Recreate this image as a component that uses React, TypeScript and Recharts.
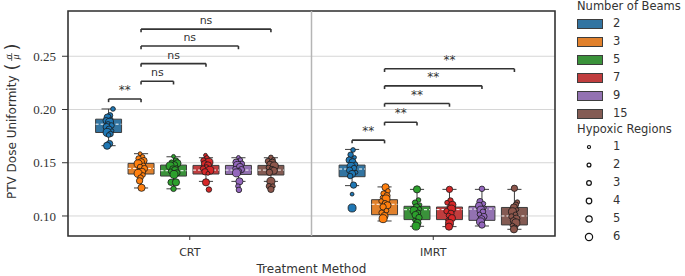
import React from 'react';
import { ComposedChart, Scatter, XAxis, YAxis, CartesianGrid, ReferenceArea, ReferenceLine } from 'recharts';

const methods = ['CRT', 'IMRT'];
const beams = ['2', '3', '5', '7', '9', '15'];
const hypoxicLevels = [1, 2, 3, 4, 5, 6];

// seaborn muted box fills and tab10 point colours
const boxColors = ['#3274a1', '#e1812c', '#3a923a', '#c03d3e', '#9372b2', '#845b53'];
const pointColors = ['#1f77b4', '#ff7f0e', '#2ca02c', '#d62728', '#9467bd', '#8c564b'];

// [whisker low, q1, median, q3, whisker high] per beam count
const crtStats = [
  [0.166, 0.1784, 0.1862, 0.1909, 0.2005],
  [0.1263, 0.1394, 0.1447, 0.1494, 0.1585],
  [0.1255, 0.1375, 0.1425, 0.1478, 0.1556],
  [0.1325, 0.1394, 0.1431, 0.1475, 0.1547],
  [0.1325, 0.139, 0.1431, 0.1475, 0.1547],
  [0.1325, 0.1385, 0.1431, 0.1475, 0.1547],
];
const imrtStats = [
  [0.1285, 0.1369, 0.1441, 0.1478, 0.1625],
  [0.0953, 0.1012, 0.111, 0.1153, 0.1273],
  [0.0903, 0.0966, 0.1059, 0.1091, 0.125],
  [0.09, 0.0966, 0.106, 0.1084, 0.125],
  [0.0906, 0.0959, 0.1065, 0.109, 0.125],
  [0.0875, 0.0916, 0.1, 0.108, 0.125],
];

// points: [jitter, uniformity, hypoxic regions]
const crtPoints = [
  [[0.018, 0.2005, 2], [0.006, 0.1945, 3], [-0.004, 0.1925, 5], [0.01, 0.191, 1], [-0.01, 0.1895, 4], [0.004, 0.188, 6], [-0.002, 0.1865, 2], [0.012, 0.185, 3], [-0.008, 0.1835, 5], [0.002, 0.1815, 4], [0.014, 0.18, 1], [-0.006, 0.1785, 6], [0.008, 0.177, 3], [0, 0.176, 2], [0.004, 0.168, 4], [-0.006, 0.166, 5]],
  [[-0.004, 0.1585, 1], [0.006, 0.1555, 2], [-0.01, 0.154, 3], [0.012, 0.152, 4], [0, 0.1505, 5], [-0.012, 0.149, 6], [0.01, 0.1475, 2], [-0.004, 0.146, 3], [0.014, 0.1445, 4], [-0.008, 0.143, 1], [0.004, 0.1415, 5], [-0.012, 0.14, 6], [0.008, 0.1385, 2], [-0.002, 0.136, 3], [-0.006, 0.133, 4], [0.002, 0.1265, 5]],
  [[0, 0.156, 1], [0.01, 0.152, 3], [-0.008, 0.1505, 2], [0.016, 0.1495, 5], [0.004, 0.148, 4], [-0.014, 0.147, 6], [0.012, 0.1455, 1], [-0.004, 0.1445, 3], [0.006, 0.143, 5], [-0.012, 0.142, 2], [0.014, 0.1405, 4], [0.002, 0.139, 6], [-0.01, 0.1316, 4], [0.01, 0.1316, 5], [0, 0.1255, 3]],
  [[-0.002, 0.157, 1], [0.004, 0.1545, 2], [-0.01, 0.152, 3], [0.012, 0.1505, 6], [-0.006, 0.149, 4], [0.008, 0.1475, 5], [0.002, 0.146, 2], [-0.012, 0.1445, 3], [0.016, 0.143, 6], [-0.004, 0.1415, 4], [0.008, 0.14, 1], [0, 0.1316, 5], [0.012, 0.1248, 3]],
  [[0, 0.155, 1], [0.008, 0.1525, 2], [-0.01, 0.1505, 4], [0.014, 0.149, 3], [-0.004, 0.1475, 6], [0.006, 0.146, 5], [-0.014, 0.1445, 2], [0.012, 0.1435, 4], [0.002, 0.142, 3], [-0.008, 0.1405, 6], [0.004, 0.1325, 5], [-0.002, 0.128, 2], [0.002, 0.1245, 3]],
  [[0, 0.155, 2], [0.01, 0.153, 1], [-0.012, 0.1515, 3], [0.006, 0.15, 5], [-0.004, 0.1485, 4], [0.014, 0.147, 6], [-0.01, 0.1455, 2], [0.004, 0.144, 3], [0.012, 0.1425, 5], [-0.006, 0.141, 4], [0, 0.1325, 6], [-0.008, 0.128, 3], [0.008, 0.128, 2], [0, 0.125, 4]],
];
const imrtPoints = [
  [[0.004, 0.162, 2], [-0.006, 0.1575, 3], [0.01, 0.155, 1], [-0.012, 0.1525, 4], [0.002, 0.1505, 5], [0.014, 0.1485, 2], [-0.004, 0.1465, 6], [0.008, 0.145, 3], [-0.01, 0.143, 4], [0.016, 0.141, 1], [0, 0.1395, 5], [-0.008, 0.1375, 3], [0.006, 0.129, 4], [0, 0.1205, 1], [0, 0.1075, 6]],
  [[0.004, 0.127, 5], [0.014, 0.1235, 2], [-0.004, 0.121, 3], [0.01, 0.119, 4], [-0.01, 0.1175, 1], [0.006, 0.116, 6], [-0.014, 0.114, 2], [0.002, 0.112, 3], [0.012, 0.11, 5], [-0.006, 0.1085, 4], [0.008, 0.105, 2], [-0.012, 0.103, 3], [0, 0.1, 5], [-0.006, 0.0975, 6]],
  [[0, 0.125, 5], [0.006, 0.115, 2], [-0.008, 0.1125, 3], [0.012, 0.1105, 1], [-0.002, 0.1085, 4], [0.01, 0.1065, 2], [-0.012, 0.105, 6], [0.004, 0.103, 3], [-0.006, 0.101, 5], [0.008, 0.0985, 4], [-0.01, 0.096, 1], [0.002, 0.0935, 5], [-0.004, 0.0905, 6]],
  [[0, 0.125, 4], [0.004, 0.1145, 3], [-0.01, 0.1125, 2], [0.012, 0.1105, 5], [-0.002, 0.1085, 1], [0.008, 0.1065, 6], [-0.012, 0.1045, 3], [0.006, 0.1025, 4], [-0.004, 0.1005, 2], [0.01, 0.098, 5], [-0.008, 0.096, 1], [0, 0.093, 6], [-0.002, 0.09, 5]],
  [[0, 0.1255, 3], [-0.008, 0.1135, 4], [0.006, 0.1115, 2], [-0.012, 0.1095, 5], [0.01, 0.1075, 1], [-0.004, 0.1055, 6], [0.004, 0.104, 3], [-0.01, 0.1015, 2], [0.008, 0.0995, 4], [-0.002, 0.097, 5], [-0.006, 0.0945, 6], [0, 0.0915, 4]],
  [[0, 0.126, 4], [0.012, 0.113, 2], [0.006, 0.1105, 3], [-0.002, 0.108, 5], [0.01, 0.106, 1], [-0.008, 0.104, 6], [0.004, 0.1015, 2], [-0.012, 0.0995, 3], [0.008, 0.0975, 5], [-0.004, 0.0955, 4], [0.006, 0.0935, 6], [-0.008, 0.091, 2], [0.002, 0.089, 3], [-0.002, 0.0875, 5]],
];

// significance brackets: pairs of beam indexes, heights and labels
const bracketPairs = [[0, 1], [1, 2], [1, 3], [1, 4], [1, 5]];
const crtBracketY = [0.2099, 0.2265, 0.2431, 0.2596, 0.2755];
const crtBracketLabels = ['**', 'ns', 'ns', 'ns', 'ns'];
const imrtBracketY = [0.1712, 0.188, 0.2056, 0.2222, 0.2382];
const imrtBracketLabels = ['**', '**', '**', '**', '**'];

const yTicks = [0.1, 0.15, 0.2, 0.25];
const Y_MIN = 0.0812;
const Y_MAX = 0.2925;

const SANS = "'DejaVu Sans', sans-serif";
const SERIF = "'Liberation Serif', serif";
const SLOT = 0.8 / 6;
const BOX_HALF = SLOT * 0.4;
const CAP_HALF = 0.029;
const TICK_DROP = 0.003;
const EDGE = '#3d3d3d';

const boxX = (g: number, i: number) => g - 0.4 + SLOT * (i + 0.5);
const pointR = (k: number) => 1.5 + 0.42 * k;
const legendR = (k: number) => 1.1 + 0.42 * k;

const groups = [
  { stats: crtStats, points: crtPoints, by: crtBracketY, labels: crtBracketLabels },
  { stats: imrtStats, points: imrtPoints, by: imrtBracketY, labels: imrtBracketLabels },
];

const YTitle = () => (
  <g transform="translate(16, 123.5) rotate(-90)" fill="#333" fontFamily={SANS}>
    <text x={48} y={0} textAnchor="end" fontSize={12}>PTV Dose Uniformity</text>
    <text x={56.5} y={-4.5} fontSize={18} textAnchor="middle" dominantBaseline="central">(</text>
    <text x={66.5} y={-8} fontSize={10} textAnchor="middle" dominantBaseline="central" fontStyle="italic" fontFamily={SERIF}>σ</text>
    <line x1={62.5} x2={70.5} y1={-4.3} y2={-4.3} stroke="#333" strokeWidth={0.7} />
    <text x={66.5} y={-0.6} fontSize={10} textAnchor="middle" dominantBaseline="central" fontStyle="italic" fontFamily={SERIF}>μ</text>
    <text x={76.5} y={-4.5} fontSize={18} textAnchor="middle" dominantBaseline="central">)</text>
  </g>
);

const bracketLabel = (text: string) => (props: any) => {
  const vb = props.viewBox || {};
  const stars = text !== 'ns';
  return (
    <text
      x={vb.x + (vb.width || 0) / 2}
      y={vb.y - 5}
      textAnchor="middle"
      fontFamily={SANS}
      fontSize={stars ? 12 : 11}
      fill="#333"
    >
      {text}
    </text>
  );
};

const Legend = () => (
  <div style={{ position: 'absolute', left: 577, top: 0, fontFamily: SANS, fontSize: 11.5, color: '#333' }}>
    <div style={{ position: 'absolute', top: -1, left: 0, whiteSpace: 'nowrap' }}>Number of Beams</div>
    {beams.map((b, i) => (
      <div key={b} style={{ position: 'absolute', top: 17 + i * 17.9, left: 0, whiteSpace: 'nowrap', height: 14 }}>
        <div style={{ position: 'absolute', left: 0, top: 2, width: 24, height: 8, background: boxColors[i], border: `1px solid ${EDGE}` }} />
        <span style={{ position: 'absolute', left: 36, top: -1 }}>{b}</span>
      </div>
    ))}
    <div style={{ position: 'absolute', top: 122, left: 0, whiteSpace: 'nowrap' }}>Hypoxic Regions</div>
    {hypoxicLevels.map((k, i) => (
      <div key={k} style={{ position: 'absolute', top: 140 + i * 17.9, left: 0, whiteSpace: 'nowrap', height: 14 }}>
        <svg width={20} height={14} style={{ position: 'absolute', left: 2, top: 0 }}>
          <circle cx={10} cy={7} r={legendR(k)} fill="none" stroke="#111" strokeWidth={1.2} />
        </svg>
        <span style={{ position: 'absolute', left: 36, top: -1 }}>{k}</span>
      </div>
    ))}
  </div>
);

export default function App() {
  return (
    <div style={{ position: 'absolute', left: 0, top: 0, width: 685, height: 276, background: '#fff' }}>
      <ComposedChart width={685} height={276} margin={{ top: 11, right: 130, bottom: 0, left: 8 }}>
        <CartesianGrid vertical={false} stroke="#d6d6d6" strokeWidth={1} />
        <XAxis
          type="number"
          dataKey="x"
          domain={[-0.5, 1.5]}
          ticks={[0, 1]}
          tickFormatter={(v: number) => methods[v]}
          height={40}
          tickSize={4}
          tickMargin={8}
          axisLine={false}
          tickLine={{ stroke: '#333' }}
          tick={{ fontFamily: SANS, fontSize: 11, fill: '#333' }}
          label={{ value: 'Treatment Method', position: 'insideBottom', offset: 3, fontFamily: SANS, fontSize: 12, fill: '#333' }}
        />
        <YAxis
          type="number"
          dataKey="y"
          domain={[Y_MIN, Y_MAX]}
          allowDataOverflow
          ticks={yTicks}
          tickFormatter={(v: number) => v.toFixed(2)}
          width={60}
          tickSize={6}
          tickMargin={6}
          axisLine={false}
          tickLine={{ stroke: '#333' }}
          tick={{ fontFamily: SERIF, fontSize: 13, fill: '#333' }}
          label={<YTitle />}
        />
        <ReferenceLine x={0.5} stroke="#b5b5b5" strokeWidth={1.5} />
        {groups.map((grp, g) =>
          grp.stats.map((s, i) => {
            const cx = boxX(g, i);
            return [
              <ReferenceLine key={`wl${g}${i}`} segment={[{ x: cx, y: s[0] }, { x: cx, y: s[1] }]} stroke={EDGE} strokeWidth={1} />,
              <ReferenceLine key={`wh${g}${i}`} segment={[{ x: cx, y: s[3] }, { x: cx, y: s[4] }]} stroke={EDGE} strokeWidth={1} />,
              <ReferenceLine key={`cl${g}${i}`} segment={[{ x: cx - CAP_HALF, y: s[0] }, { x: cx + CAP_HALF, y: s[0] }]} stroke={EDGE} strokeWidth={1} />,
              <ReferenceLine key={`ch${g}${i}`} segment={[{ x: cx - CAP_HALF, y: s[4] }, { x: cx + CAP_HALF, y: s[4] }]} stroke={EDGE} strokeWidth={1} />,
              <ReferenceArea key={`b${g}${i}`} x1={cx - BOX_HALF} x2={cx + BOX_HALF} y1={s[1]} y2={s[3]} fill={boxColors[i]} fillOpacity={1} stroke={EDGE} strokeWidth={1} />,
              <ReferenceLine key={`m${g}${i}`} segment={[{ x: cx - BOX_HALF, y: s[2] }, { x: cx + BOX_HALF, y: s[2] }]} stroke="#fff" strokeWidth={1} strokeDasharray="3 2" />,
            ];
          })
        )}
        {groups.map((grp, g) =>
          grp.points.map((pts, i) => (
            <Scatter
              key={`p${g}${i}`}
              data={pts.map((p) => ({ x: boxX(g, i) + p[0], y: p[1], r: p[2] }))}
              isAnimationActive={false}
              shape={(props: any) => (
                <circle cx={props.cx} cy={props.cy} r={pointR(props.payload.r)} fill={pointColors[i]} stroke="#1a1a1a" strokeWidth={0.8} />
              )}
            />
          ))
        )}
        {groups.map((grp, g) =>
          bracketPairs.map(([a, b], j) => {
            const x1 = boxX(g, a);
            const x2 = boxX(g, b);
            const y = grp.by[j];
            const lab = grp.labels[j];
            return [
              <ReferenceLine key={`s${g}${j}`} segment={[{ x: x1, y }, { x: x2, y }]} stroke="#333" strokeWidth={1.6} label={bracketLabel(lab)} />,
              <ReferenceLine key={`sl${g}${j}`} segment={[{ x: x1, y }, { x: x1, y: y - TICK_DROP }]} stroke="#333" strokeWidth={1.6} />,
              <ReferenceLine key={`sr${g}${j}`} segment={[{ x: x2, y }, { x: x2, y: y - TICK_DROP }]} stroke="#333" strokeWidth={1.6} />,
            ];
          })
        )}
        <ReferenceArea x1={-0.5} x2={1.5} y1={Y_MIN} y2={Y_MAX} fill="none" stroke="#333" strokeWidth={1.6} ifOverflow="visible" />
      </ComposedChart>
      <Legend />
    </div>
  );
}
